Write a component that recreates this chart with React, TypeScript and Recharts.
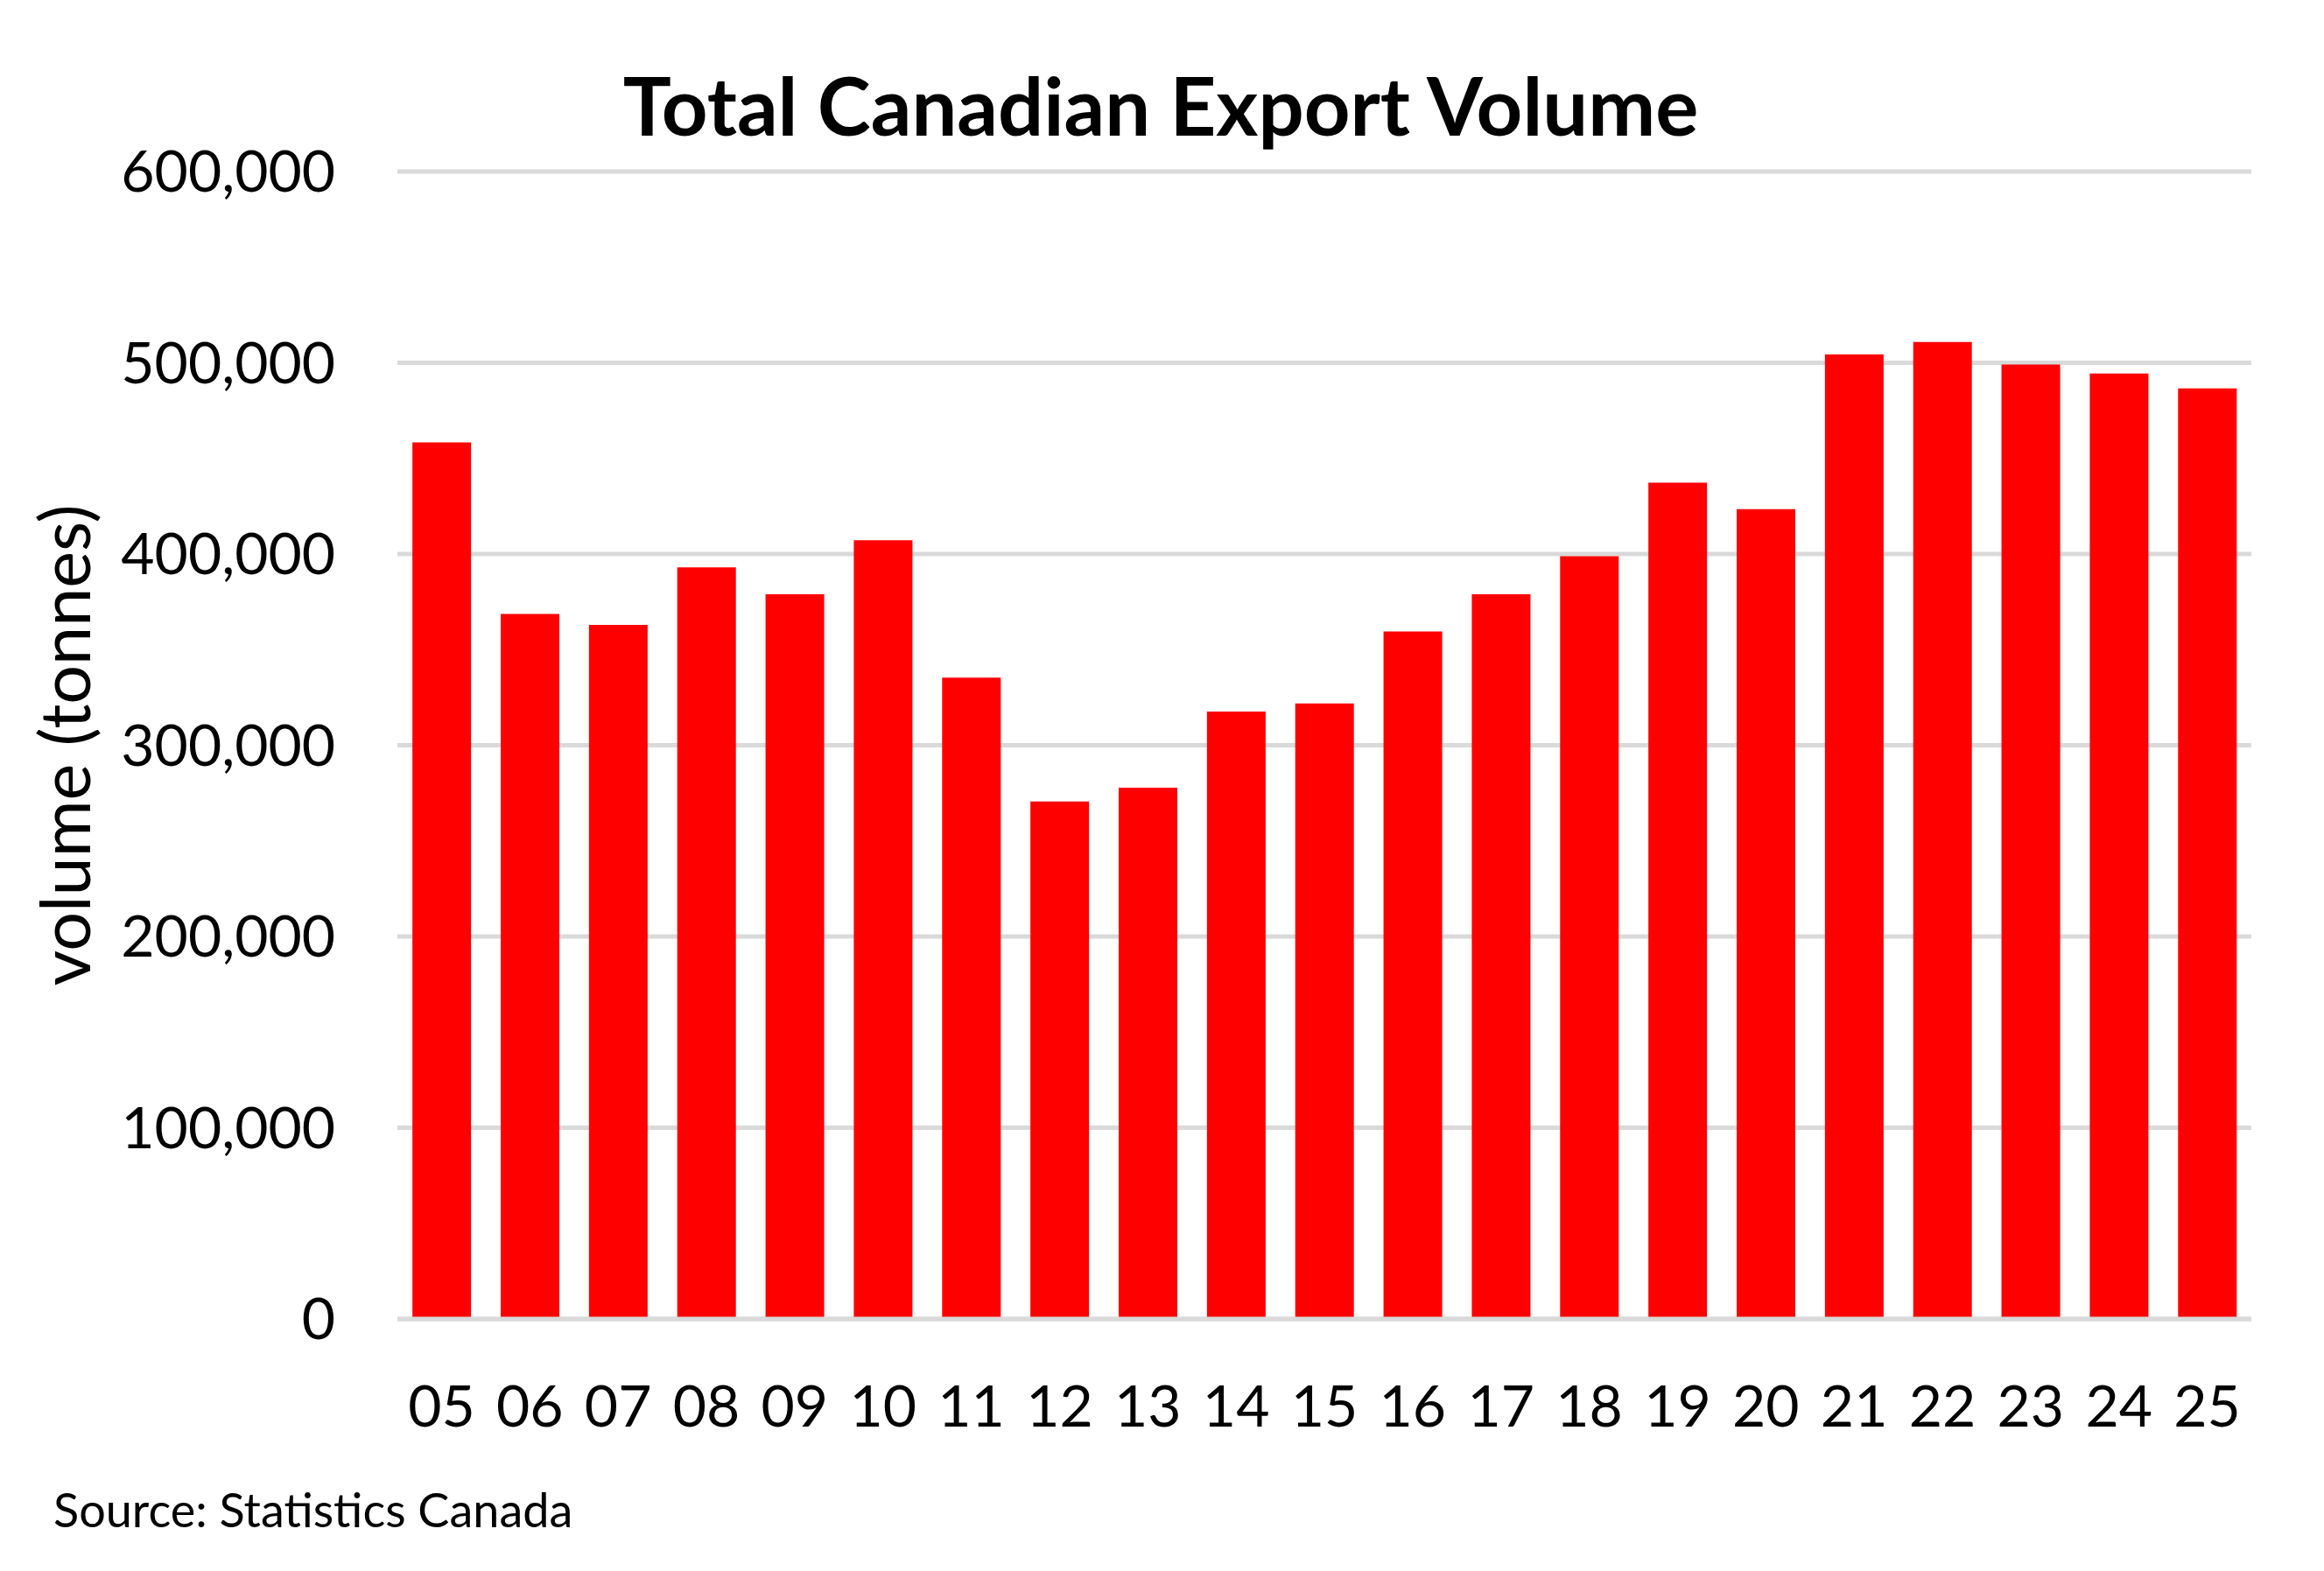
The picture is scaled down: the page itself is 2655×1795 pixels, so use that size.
import { BarChart, Bar, XAxis, YAxis, CartesianGrid, Label } from 'recharts';

const years = ['05', '06', '07', '08', '09', '10', '11', '12', '13', '14', '15', '16', '17', '18', '19', '20', '21', '22', '23', '24', '25'];
const volumes = [458300, 368700, 362900, 393000, 378900, 407200, 335400, 270600, 277800, 317600, 321800, 359500, 378900, 398800, 437300, 423400, 504400, 510900, 499100, 494400, 486600];
const yTicks = [0, 100000, 200000, 300000, 400000, 500000, 600000];

const data = years.map((year, i) => ({ year, volume: volumes[i] }));

const font = 'Lato, "Noto Sans", sans-serif';

export default function App() {
  return (
    <div style={{ position: 'absolute', left: 0, top: 0, width: 2655, height: 1795, background: '#fff', fontFamily: font }}>
      <div style={{ position: 'absolute', left: 0, top: 74, width: 2652, textAlign: 'center', fontSize: 92, fontWeight: 700, lineHeight: 1, color: '#000' }}>
        Total Canadian Export Volume
      </div>
      <BarChart width={2655} height={1795} data={data} margin={{ top: 196, right: 83, bottom: 0, left: 0 }} barCategoryGap="17%">
        <CartesianGrid vertical={false} stroke="#d9d9d9" strokeWidth={5} />
        <XAxis
          dataKey="year"
          height={288}
          tickLine={false}
          tickSize={0}
          tickMargin={76}
          axisLine={{ stroke: '#d9d9d9', strokeWidth: 5 }}
          tick={{ fill: '#000', fontSize: 66, fontFamily: font }}
          interval={0}
        />
        <YAxis
          width={454}
          domain={[0, 600000]}
          ticks={yTicks}
          axisLine={false}
          tickLine={false}
          tickSize={0}
          tickMargin={71}
          tickFormatter={(v: number) => v.toLocaleString('en-US')}
          tick={{ fill: '#000', fontSize: 66, fontFamily: font }}
        >
          <Label
            content={({ viewBox }: any) => {
              const cx = viewBox.x + 72;
              const cy = viewBox.y + viewBox.height / 2;
              return (
                <text
                  x={cx}
                  y={cy}
                  transform={`rotate(-90, ${cx}, ${cy})`}
                  textAnchor="middle"
                  dominantBaseline="central"
                  fontSize={79}
                  fontFamily={font}
                  fill="#000"
                >
                  volume (tonnes)
                </text>
              );
            }}
          />
        </YAxis>
        <Bar dataKey="volume" fill="#ff0000" isAnimationActive={false} />
      </BarChart>
      <div style={{ position: 'absolute', left: 61, top: 1698, fontSize: 54, lineHeight: 1, color: '#000', whiteSpace: 'nowrap' }}>
        Source: Statistics Canada
      </div>
    </div>
  );
}
